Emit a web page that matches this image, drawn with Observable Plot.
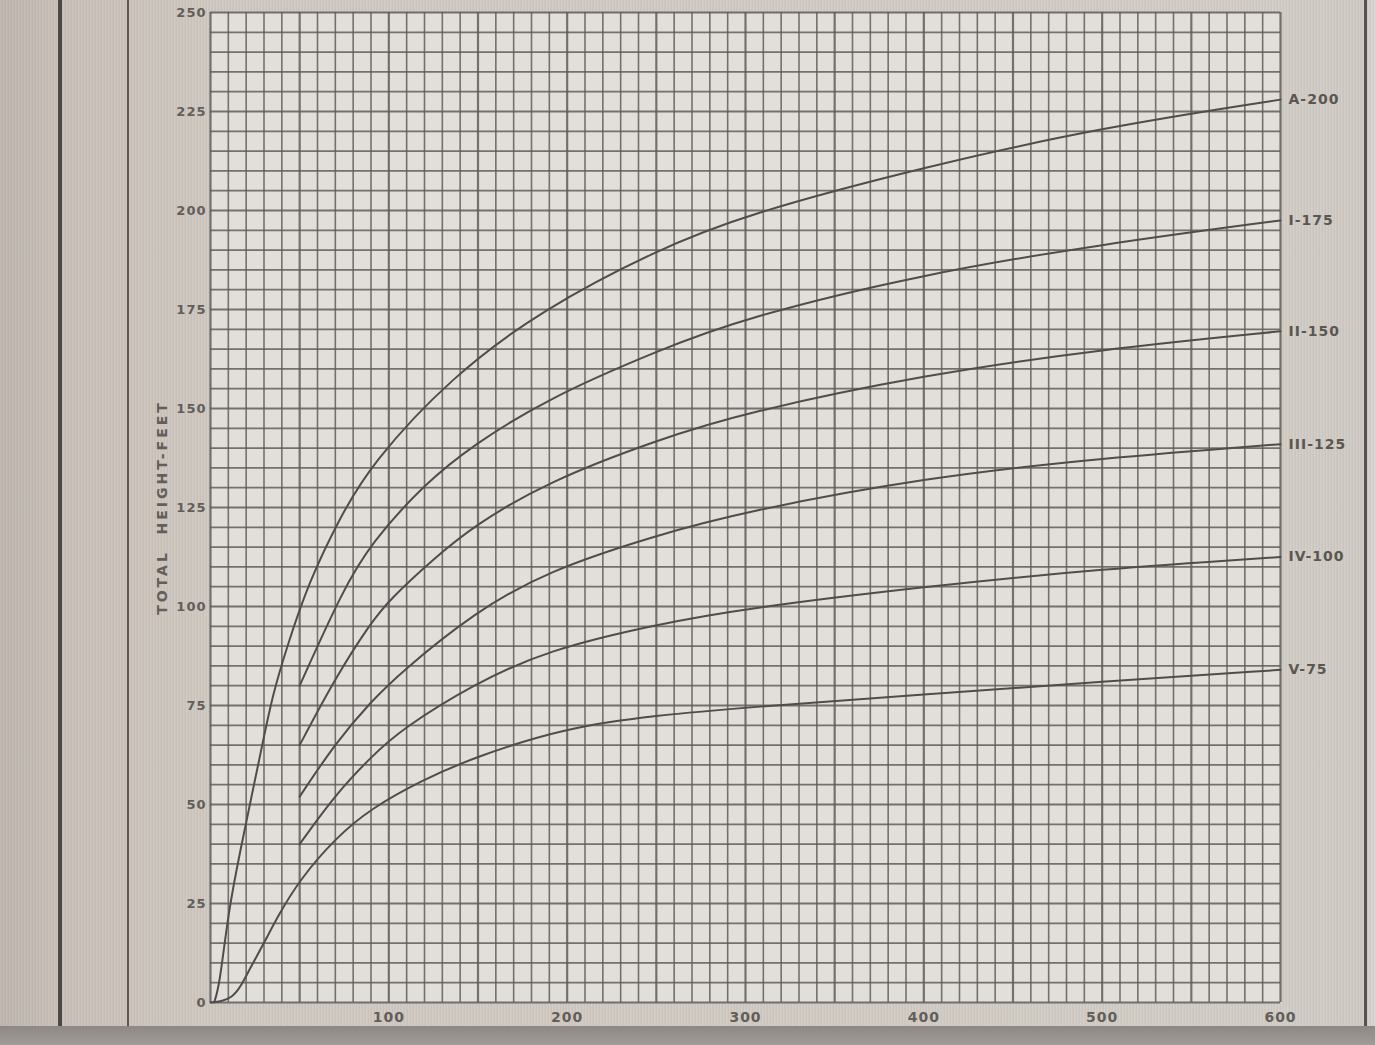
<!DOCTYPE html>
<html>
<head>
<meta charset="utf-8">
<script src="https://cdn.jsdelivr.net/npm/d3@7"></script>
<script src="https://cdn.jsdelivr.net/npm/@observablehq/plot@0.6"></script>
<style>
  html, body { margin: 0; padding: 0; background: #c9c2ba; }
  #page {
    position: relative; width: 1375px; height: 1045px; overflow: hidden;
    background:
      repeating-linear-gradient(90deg, rgba(255,255,255,0.07) 0px, rgba(255,255,255,0.07) 1px, rgba(0,0,0,0.03) 2px, rgba(0,0,0,0.03) 3px),
      linear-gradient(90deg, #bdb5ad 0px, #c8c0b8 60px, #cbc3ba 130px, #cfc8c0 210px, #d2ccc5 1280px, #cfc9c2 1365px, #d9d6d2 1375px);
  }
  .deco { position: absolute; }
  #chart { position: absolute; left: 0; top: 0; }
</style>
</head>
<body>
<div id="page">
  <div class="deco" style="left:58px;top:0;width:4px;height:1030px;background:#4a4744;"></div>
  <div class="deco" style="left:127px;top:0;width:2px;height:1030px;background:#5a5652;"></div>
  <div class="deco" style="left:1364px;top:0;width:3px;height:1030px;background:#55524f;"></div>
  <div class="deco" style="left:0;top:1026px;width:1375px;height:19px;background:linear-gradient(180deg,#8d8883,#a19c97);"></div>
  <div id="chart"></div>
</div>
<script>
// Series labels (site classes) and values
const seriesLabels = ["A-200", "I-175", "II-150", "III-125", "IV-100", "V-75"];

const ageA    = [2, 5, 10, 17, 23, 29, 35, 43, 55, 72, 90, 135, 186, 250, 300, 400, 500, 600];
const heightA = [0, 4, 23, 39, 52, 65, 78, 90, 106, 122, 136, 158, 175, 190, 199, 211, 221, 228];

const ageI    = [50, 74, 90, 120, 148, 189, 250, 300, 400, 500, 600];
const heightI = [80, 104, 116, 131, 141, 152.5, 164.5, 173, 184, 191.5, 197.5];

const ageII    = [50, 70, 90, 101, 125, 148, 189, 250, 300, 400, 500, 600];
const heightII = [65, 82, 96, 102, 112, 120.5, 131.5, 142, 149, 158.5, 165, 169.5];

const ageIII    = [50, 70, 90, 107, 148, 189, 250, 300, 400, 500, 600];
const heightIII = [52, 65.5, 76, 83.5, 98.5, 109, 118, 124, 132.5, 137.5, 141];

const ageIV    = [50, 70, 90, 107, 148, 189, 250, 300, 400, 500, 600];
const heightIV = [40, 52.5, 62, 69, 80.5, 89, 95.5, 99.5, 105, 109.5, 112.5];

const ageV    = [0, 6, 12, 17, 22, 30, 38, 50, 70, 90, 118, 148, 200, 250, 300, 400, 500, 600];
const heightV = [0, 0.3, 1.2, 4, 8.5, 15, 22, 31, 41.5, 49, 56, 62, 69.5, 72.5, 74.5, 77.8, 81, 84];

const xTickLabels = [100, 200, 300, 400, 500, 600];
const yTickLabels = [0, 25, 50, 75, 100, 125, 150, 175, 200, 225, 250];
const yAxisTitle = "TOTAL  HEIGHT-FEET";

// Build table for Plot
const seriesAges = [ageA, ageI, ageII, ageIII, ageIV, ageV];
const seriesHeights = [heightA, heightI, heightII, heightIII, heightIV, heightV];
const rows = [];
seriesLabels.forEach((s, i) => {
  seriesAges[i].forEach((a, j) => rows.push({series: s, age: a, height: seriesHeights[i][j]}));
});
const ends = seriesLabels.map((s, i) => ({
  series: s,
  age: seriesAges[i][seriesAges[i].length - 1],
  height: seriesHeights[i][seriesHeights[i].length - 1]
}));

// Graph-paper rulings
const xGrid = d3.range(0, 601, 10);
const yGrid = d3.range(0, 251, 5);

const font = "'DejaVu Sans', 'Liberation Sans', sans-serif";

const chart = Plot.plot({
  width: 1375,
  height: 1045,
  marginLeft: 210,
  marginRight: 95,
  marginTop: 12,
  marginBottom: 43,
  style: {background: "transparent", fontFamily: font, fontSize: "13px", color: "#4d4a47"},
  x: {domain: [0, 600]},
  y: {domain: [0, 250]},
  marks: [
    Plot.frame({fill: "#e2dfda", stroke: null}),
    Plot.ruleX(xGrid, {stroke: "#5f5d5b", strokeWidth: d => d % 50 === 0 ? 2.2 : 1.6, strokeOpacity: 0.85}),
    Plot.ruleY(yGrid, {stroke: "#5f5d5b", strokeWidth: d => d % 25 === 0 ? 2.2 : 1.7, strokeOpacity: 0.85}),
    Plot.line(rows, {x: "age", y: "height", z: "series", curve: "basis", stroke: "#4f4d4b", strokeWidth: 2}),
    Plot.axisX(xTickLabels, {tickSize: 0, tickPadding: 10, label: null, fontSize: 14, fontWeight: "bold", fill: "#625e5a"}),
    Plot.axisY(yTickLabels, {tickSize: 0, tickPadding: 4, label: null, fontSize: 13, fontWeight: "bold", fill: "#625e5a"}),
    Plot.text([yAxisTitle], {frameAnchor: "left", textAnchor: "middle", rotate: -90, dx: -48, fontSize: 14, fontWeight: "bold", fill: "#625e5a", text: d => d, className: "ytitle"}),
    Plot.text(ends, {x: "age", y: "height", text: "series", dx: 8, textAnchor: "start", fontSize: 14, fontWeight: "bold", fill: "#5a5652"})
  ]
});
chart.querySelectorAll("text").forEach(t => t.style.letterSpacing = "1px");
chart.querySelectorAll(".ytitle text").forEach(t => t.style.letterSpacing = "3px");
document.getElementById("chart").appendChild(chart);
</script>
</body>
</html>
